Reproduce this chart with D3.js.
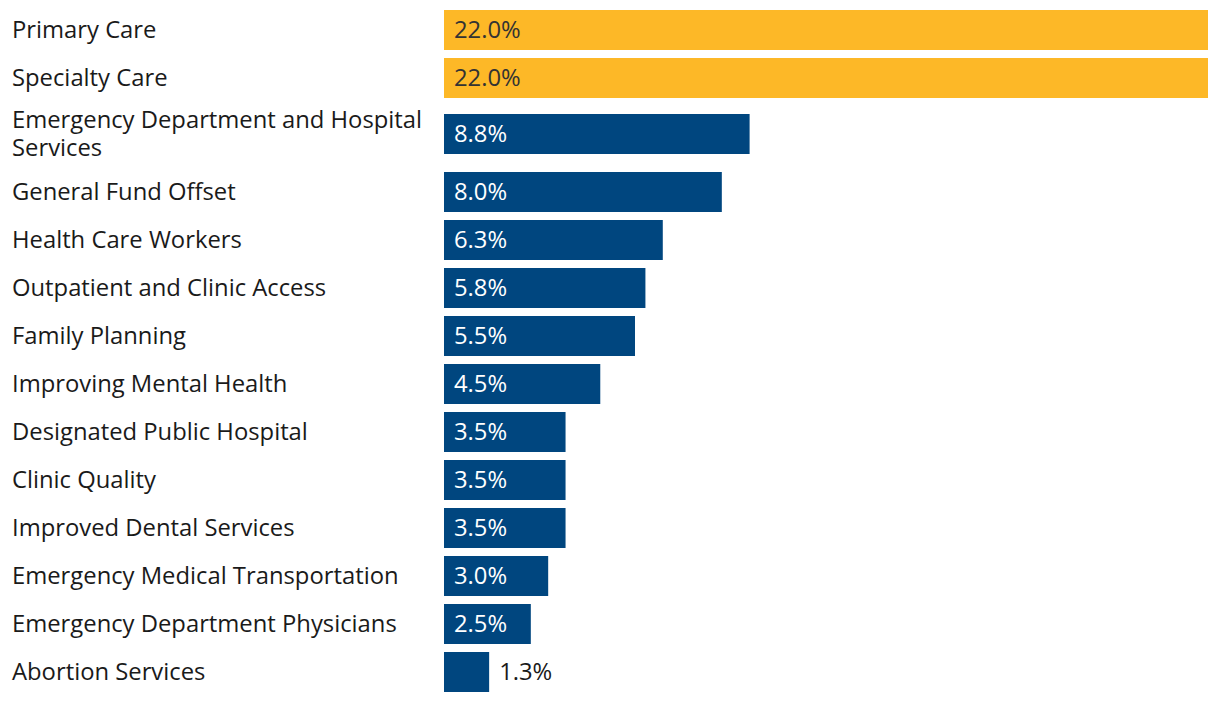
<!DOCTYPE html>
<html>
<head>
<meta charset="utf-8">
<script src="https://cdn.jsdelivr.net/npm/d3@7"></script>
<style>
  html, body { margin: 0; padding: 0; background: #fff; }
  svg text { font-family: "Open Sans", sans-serif; }
</style>
</head>
<body>
<svg id="chart" width="1220" height="702"></svg>
<script>
const categories = [
  "Primary Care",
  "Specialty Care",
  "Emergency Department and Hospital Services",
  "General Fund Offset",
  "Health Care Workers",
  "Outpatient and Clinic Access",
  "Family Planning",
  "Improving Mental Health",
  "Designated Public Hospital",
  "Clinic Quality",
  "Improved Dental Services",
  "Emergency Medical Transportation",
  "Emergency Department Physicians",
  "Abortion Services"
];
const values = [22.0, 22.0, 8.8, 8.0, 6.3, 5.8, 5.5, 4.5, 3.5, 3.5, 3.5, 3.0, 2.5, 1.3];
const highlighted = ["Primary Care", "Specialty Care"];

const svg = d3.select("#chart");
const labelX = 12, labelWidth = 422;
const fontSize = 23.8;
const barH = 40, rowH = 48, lineH = 28;

const x = d3.scaleLinear().domain([0, 22]).range([444, 1208]);
const color = d3.scaleOrdinal().domain(["hi", "lo"]).range(["#FDB827", "#00467F"]);

// measure & wrap labels
const meas = svg.append("text").attr("font-size", fontSize).attr("visibility", "hidden");
function wrap(str) {
  const words = str.split(" ");
  const lines = [];
  let cur = "";
  words.forEach(w => {
    const test = cur ? cur + " " + w : w;
    meas.text(test);
    if (meas.node().getComputedTextLength() > labelWidth && cur) {
      lines.push(cur); cur = w;
    } else cur = test;
  });
  if (cur) lines.push(cur);
  return lines;
}
const rows = categories.map((c, i) => ({ cat: c, val: values[i], lines: wrap(c) }));
meas.remove();

let yAcc = 10;
rows.forEach(r => {
  const extra = (r.lines.length - 1) * 18;
  r.barY = yAcc + Math.floor(extra / 2) - (extra ? 1 : 0);
  yAcc += rowH + extra;
});

const g = svg.selectAll("g.row").data(rows).join("g").attr("class", "row");

g.append("rect")
  .attr("x", x(0))
  .attr("y", d => d.barY)
  .attr("width", d => x(d.val) - x(0))
  .attr("height", barH)
  .attr("fill", d => color(highlighted.includes(d.cat) ? "hi" : "lo"));

g.each(function(d) {
  const t = d3.select(this).append("text")
    .attr("font-size", fontSize)
    .attr("fill", "#1a1a1a")
    .attr("x", labelX);
  const n = d.lines.length;
  d.lines.forEach((ln, k) => {
    t.append("tspan")
      .attr("x", labelX)
      .attr("y", d.barY + barH / 2 + (k - (n - 1) / 2) * lineH)
      .attr("dy", "0.35em")
      .text(ln);
  });
});

g.append("text")
  .attr("font-size", fontSize)
  .attr("dy", "0.35em")
  .attr("y", d => d.barY + barH / 2)
  .attr("x", d => (x(d.val) - x(0) > 70) ? x(0) + 10 : x(d.val) + 10)
  .attr("fill", d => {
    const inside = x(d.val) - x(0) > 70;
    if (!inside) return "#1a1a1a";
    return highlighted.includes(d.cat) ? "#333333" : "#ffffff";
  })
  .text(d => d3.format(".1f")(d.val) + "%");
</script>
</body>
</html>
